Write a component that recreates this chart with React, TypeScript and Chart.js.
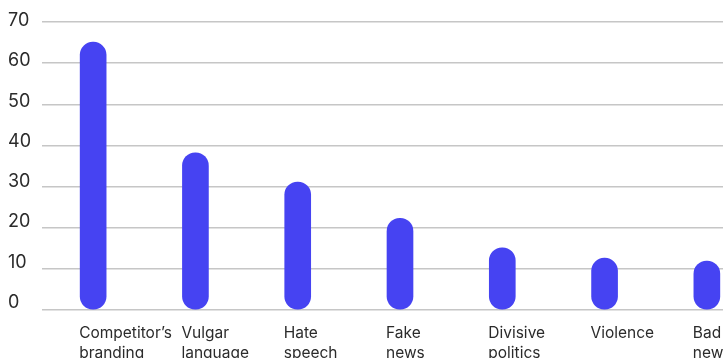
import React, { useEffect, useRef } from "react";
import { Chart, registerables } from "chart.js";

Chart.register(...registerables);

const categories: string[][] = [
  ["Competitor’s", "branding"],
  ["Vulgar", "language"],
  ["Hate", "speech"],
  ["Fake", "news"],
  ["Divisive", "politics"],
  ["Violence"],
  ["Bad", "news"],
];
const values: number[] = [65.1, 38.2, 31.1, 22.3, 15.1, 12.6, 11.9];
const yTicks: number[] = [0, 10, 20, 30, 40, 50, 60, 70];

const BAR_COLOR = "#4643F2";
const FONT = "Inter, 'Noto Sans', sans-serif";
const TEXT = "#2b2b2b";

export default function App() {
  const ref = useRef<HTMLCanvasElement | null>(null);

  useEffect(() => {
    document.body.style.margin = "0";
    const canvas = ref.current;
    if (!canvas) return;
    const chart = new Chart(canvas, {
      type: "bar",
      data: {
        labels: categories,
        datasets: [
          {
            data: values,
            yAxisID: "y",
            backgroundColor: BAR_COLOR,
            borderWidth: 0,
            borderRadius: 13,
            borderSkipped: false,
            barThickness: 26,
          },
        ],
      },
      options: {
        responsive: false,
        animation: false,
        devicePixelRatio: 1,
        layout: { padding: { left: 8, top: 22, right: 5, bottom: 12 } },
        plugins: { legend: { display: false }, tooltip: { enabled: false } },
        scales: {
          x: {
            grid: { display: false, drawTicks: false },
            border: { display: false },
            ticks: {
              color: TEXT,
              font: { family: FONT, size: 15.5, lineHeight: 1.29 },
              align: "start",
              labelOffset: -14,
              padding: 13,
              maxRotation: 0,
              autoSkip: false,
            },
            afterFit: (s: any) => {
              s.height = 48;
            },
          },
          y: {
            position: "left",
            min: 0,
            max: 70,
            afterBuildTicks: (s: any) => {
              s.ticks = yTicks.map((v) => ({ value: v }));
            },
            grid: { color: "#c6c6c6", lineWidth: 1.5, drawTicks: false },
            border: { display: false },
            ticks: { display: false },
            afterFit: (s: any) => {
              s.width = 0;
            },
          },
          yLabels: {
            position: "left",
            min: -1.57,
            max: 70,
            afterBuildTicks: (s: any) => {
              s.ticks = yTicks.map((v) => ({ value: v }));
            },
            grid: { display: false, drawTicks: false },
            border: { display: false },
            ticks: {
              color: TEXT,
              font: { family: FONT, size: 18 },
              crossAlign: "far",
              labelOffset: -1.2,
              padding: 8,
            },
            afterFit: (s: any) => {
              s.width = 34;
            },
          },
        },
      },
    });
    return () => chart.destroy();
  }, []);

  return (
    <div
      style={{
        position: "fixed",
        left: 0,
        top: 0,
        width: 723,
        height: 358,
        overflow: "hidden",
        background: "#fff",
      }}
    >
      <canvas
        ref={ref}
        width={763}
        height={370}
        style={{ position: "absolute", left: 0, top: 0, width: 763, height: 370 }}
      />
    </div>
  );
}
